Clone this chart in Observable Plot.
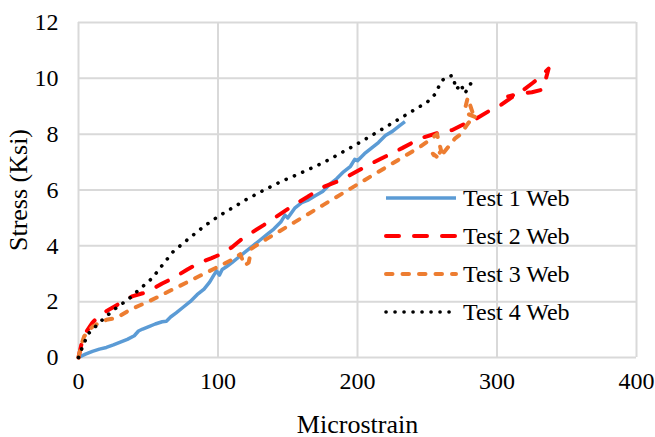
<!DOCTYPE html>
<html>
<head>
<meta charset="utf-8">
<script src="https://cdn.jsdelivr.net/npm/d3@7"></script>
<script src="https://cdn.jsdelivr.net/npm/@observablehq/plot@0.6"></script>
<style>
  html, body { margin: 0; padding: 0; background: #fff; }
  #wrap { position: relative; width: 655px; height: 437px; }
  #legend { position: absolute; left: 383px; top: 179px; font-family: "Liberation Serif", "Times New Roman", serif; font-size: 24px; color: #000; }
  .row { display: flex; align-items: center; height: 38px; }
  .row svg { margin-right: 4px; }
</style>
</head>
<body>
<div id="wrap"><div id="legend"></div></div>
<script>
const seriesNames = ["Test 1 Web", "Test 2 Web", "Test 3 Web", "Test 4 Web"];
const seriesColors = ["#5b9bd5", "#ff0000", "#ed7d31", "#000000"];

const test1X = [0, 5, 10, 15, 20, 25, 30, 35, 40, 43, 46, 50, 55, 60, 63, 66, 70, 75, 80, 85, 90, 94, 97, 99, 101, 103, 106, 110, 115, 120, 125, 130, 135, 140, 145, 148, 150, 155, 160, 165, 170, 175, 180, 185, 190, 195, 198, 200, 205, 210, 215, 220, 225, 230, 234];
const test1Y = [0, 0.12, 0.22, 0.3, 0.36, 0.45, 0.55, 0.65, 0.78, 0.95, 1.02, 1.1, 1.2, 1.28, 1.3, 1.45, 1.6, 1.8, 2.0, 2.25, 2.45, 2.7, 2.95, 3.1, 2.95, 3.15, 3.25, 3.4, 3.6, 3.8, 4.0, 4.2, 4.4, 4.6, 4.85, 5.1, 5.0, 5.35, 5.55, 5.65, 5.8, 5.95, 6.2, 6.4, 6.65, 6.85, 7.1, 7.05, 7.3, 7.5, 7.7, 7.95, 8.1, 8.3, 8.45];

const test2X = [0, 2, 4, 6, 10, 15, 23, 30, 39, 46, 53, 60, 68, 78, 87, 95, 102, 110, 116, 125, 133, 142, 154, 164, 175, 188, 199, 210, 220, 232, 245, 258, 268, 274, 285, 295, 303, 310, 318, 326, 332, 337, 333, 325, 316, 308];
const test2Y = [0, 0.45, 0.75, 0.95, 1.25, 1.5, 1.75, 1.95, 2.2, 2.3, 2.45, 2.65, 2.85, 3.15, 3.4, 3.55, 3.7, 3.95, 4.2, 4.5, 4.75, 5.05, 5.45, 5.75, 6.1, 6.35, 6.65, 6.95, 7.2, 7.5, 7.85, 8.05, 8.15, 8.3, 8.55, 8.85, 9.05, 9.3, 9.55, 9.85, 10.1, 10.35, 9.6, 9.5, 9.45, 9.35];

const test3X = [0, 2, 4, 7, 10, 15, 20, 25, 30, 35, 40, 50, 60, 70, 80, 90, 100, 110, 116, 119, 122, 124, 127, 135, 145, 155, 165, 175, 185, 195, 205, 215, 225, 235, 245, 252, 257, 260, 256, 254, 258, 262, 266, 270, 274, 278, 281, 285, 280, 277, 279, 283, 287];
const test3Y = [0, 0.45, 0.75, 0.95, 1.1, 1.25, 1.35, 1.4, 1.5, 1.65, 1.78, 2.0, 2.25, 2.5, 2.75, 3.0, 3.25, 3.5, 3.7, 3.3, 3.4, 3.9, 4.0, 4.25, 4.55, 4.85, 5.15, 5.45, 5.75, 6.05, 6.35, 6.65, 6.95, 7.25, 7.55, 7.8, 8.0, 7.4, 7.15, 7.3, 7.15, 7.35, 7.6, 7.85, 8.0, 8.3, 8.5, 8.6, 8.7, 8.9, 9.3, 8.7, 8.6];

const test4X = [0, 3, 7, 12, 16, 25, 36, 45, 53, 60, 68, 80, 90, 100, 110, 120, 135, 145, 159, 170, 180, 198, 210, 220, 230, 240, 250, 256, 260, 264, 268, 271, 274, 277, 280, 283, 286];
const test4Y = [0, 0.4, 0.85, 1.1, 1.3, 1.7, 2.1, 2.5, 2.85, 3.3, 3.8, 4.3, 4.7, 5.05, 5.35, 5.65, 6.05, 6.3, 6.6, 6.85, 7.1, 7.6, 7.95, 8.25, 8.55, 8.85, 9.15, 9.45, 9.9, 10.05, 10.1, 9.6, 9.8, 9.45, 9.75, 9.9, 10.0];

const xTicks = [0, 100, 200, 300, 400];
const yTicks = [0, 2, 4, 6, 8, 10, 12];

const styles = [
  {strokeWidth: 3.5, strokeDasharray: null, strokeLinecap: "butt"},
  {strokeWidth: 4, strokeDasharray: "13,15", strokeLinecap: "round"},
  {strokeWidth: 4, strokeDasharray: "6.5,10", strokeLinecap: "round"},
  {strokeWidth: 3.6, strokeDasharray: "0.1,8.9", strokeLinecap: "round"}
];

const allX = [test1X, test2X, test3X, test4X];
const allY = [test1Y, test2Y, test3Y, test4Y];
const tables = allX.map((xs, i) => xs.map((x, j) => ({x, y: allY[i][j], s: seriesNames[i]})));

const font = "Liberation Serif, Times New Roman, serif";

const chart = Plot.plot({
  width: 655,
  height: 437,
  marginLeft: 78,
  marginRight: 19,
  marginTop: 22,
  marginBottom: 80,
  style: {fontFamily: font, fontSize: "24px", color: "#000", background: "#fff"},
  x: {domain: [0, 400], ticks: xTicks, label: null},
  y: {domain: [0, 12], ticks: yTicks, label: null},
  marks: [
    Plot.gridX(xTicks, {stroke: "#d9d9d9", strokeOpacity: 1, strokeWidth: 2}),
    Plot.gridY(yTicks, {stroke: "#d9d9d9", strokeOpacity: 1, strokeWidth: 2}),
    Plot.axisX(xTicks, {tickSize: 0, tickPadding: 14, fontSize: 24, label: null}),
    Plot.axisY(yTicks, {tickSize: 0, tickPadding: 20, fontSize: 24, label: null}),
    Plot.axisX({ticks: [], label: "Microstrain", labelAnchor: "center", labelOffset: 75, fontSize: 26, labelArrow: "none"}),
    Plot.axisY({ticks: [], label: "Stress (Ksi)", labelAnchor: "center", labelOffset: 70, fontSize: 26, labelArrow: "none"}),
    ...tables.map((t, i) => Plot.line(t, {x: "x", y: "y", stroke: seriesColors[i], strokeWidth: styles[i].strokeWidth, strokeDasharray: styles[i].strokeDasharray, strokeLinecap: styles[i].strokeLinecap, strokeLinejoin: "round", curve: "linear"}))
  ]
});
document.getElementById("wrap").prepend(chart);

const legend = document.getElementById("legend");
seriesNames.forEach((name, i) => {
  const row = document.createElement("div");
  row.className = "row";
  const st = styles[i];
  row.innerHTML = `<svg width="76" height="10"><line x1="3" x2="73" y1="5" y2="5" stroke="${seriesColors[i]}" stroke-width="${st.strokeWidth}" ${st.strokeDasharray ? `stroke-dasharray="${st.strokeDasharray}"` : ""} stroke-linecap="${st.strokeLinecap}"/></svg><span>${name}</span>`;
  legend.appendChild(row);
});
</script>
</body>
</html>
